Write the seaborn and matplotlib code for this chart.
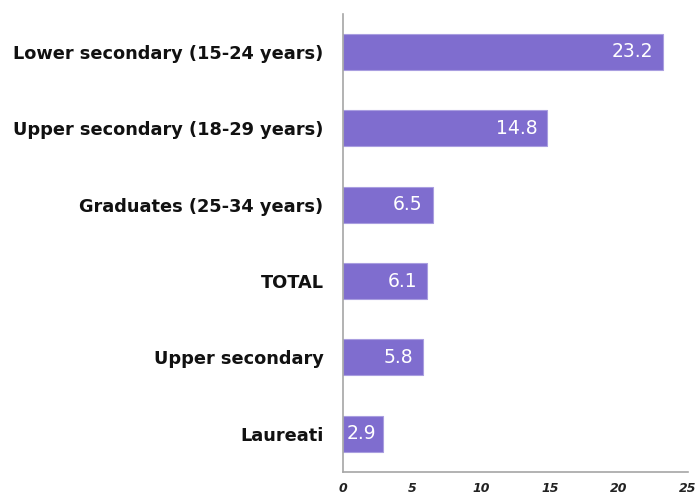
import matplotlib
matplotlib.use("Agg")
import matplotlib.pyplot as plt
import seaborn as sns
import pandas as pd

sns.set_style("white")
plt.rcParams['font.family'] = ['DejaVu Sans']

categories = [
    "Lower secondary (15-24 years)",
    "Upper secondary (18-29 years)",
    "Graduates (25-34 years)",
    "TOTAL",
    "Upper secondary",
    "Laureati",
]
values = [23.2, 14.8, 6.5, 6.1, 5.8, 2.9]
x_ticks = [0, 5, 10, 15, 20, 25]

df = pd.DataFrame({"category": categories, "value": values})

fig = plt.figure(figsize=(6.95, 4.97), dpi=100)
ax = fig.add_axes([0.4935, 0.0503, 0.4965, 0.922])

sns.barplot(data=df, x="value", y="category", color="#7f6dcf",
            saturation=1, width=0.47, edgecolor="#a99ee0", linewidth=0.8, ax=ax)

# labels inside the bars, pushed to the left edge when the bar is short
for i, v in enumerate(values):
    if v - 0.72 - 2.3 < 0.3:
        ax.text(0.3, i, f"{v:.1f}", ha="left", va="center",
                color="white", fontsize=13.5)
    else:
        ax.text(v - 0.72, i, f"{v:.1f}", ha="right", va="center",
                color="white", fontsize=13.5)

ax.set_xlim(0, 25)
ax.set_xticks(x_ticks)
ax.set_xticklabels([str(t) for t in x_ticks], fontsize=9,
                   fontstyle="italic", fontweight="bold", color="#222222")
ax.set_yticklabels(categories, fontsize=12.8, fontweight="bold", color="#111111")
ax.set_xlabel("")
ax.set_ylabel("")
ax.tick_params(axis="both", length=0)
ax.tick_params(axis="x", pad=7)
ax.tick_params(axis="y", pad=14)

sns.despine(ax=ax, top=True, right=True)
for s in ["left", "bottom"]:
    ax.spines[s].set_color("#a6a6a6")
    ax.spines[s].set_linewidth(1.2)

fig.savefig("out.png", dpi=100)
